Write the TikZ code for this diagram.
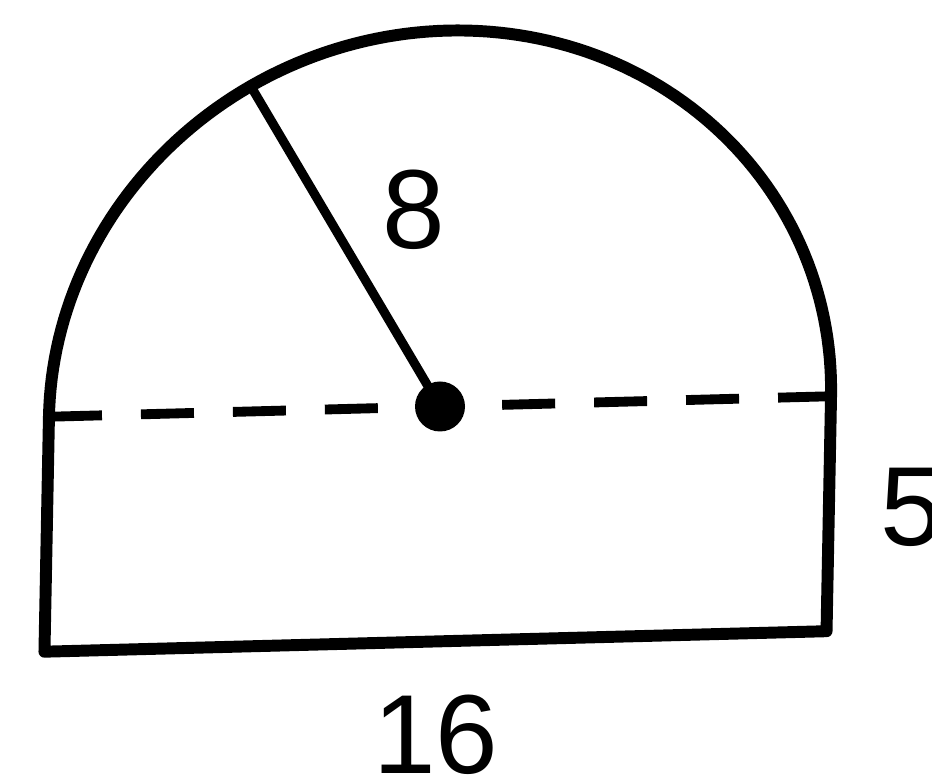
\documentclass[tikz,border=0pt]{standalone}
\usepackage{fontspec}
\setmainfont{Liberation Sans}
\tikzset{
  outline/.style={line width=3.4pt, line join=round, line cap=round},
  radiusline/.style={line width=2.6pt},
  dashline/.style={line width=2.8pt, dash pattern=on 0.53cm off 0.39cm},
  lbl/.style={inner sep=0pt, font=\fontsize{32}{32}\selectfont}
}
\begin{document}
\begin{tikzpicture}
\useasboundingbox (0,0) rectangle (9.32,-7.77);
\begin{scope}[shift={(4.40,-4.065)}, x={(0.4888cm,0.0128cm)}, y={(0.0090cm,0.4699cm)}]
  \coordinate (O) at (0,0);
  \coordinate (A) at (-8,0);
  \coordinate (B) at (8,0);
  \coordinate (C) at (8,-5);
  \coordinate (D) at (-8,-5);
  \coordinate (R) at (120:8);
  \draw[outline] (A) -- (D) -- (C) -- (B) -- plot[domain=0:180, samples=121] (\x:8) -- cycle;
  \draw[dashline] (A) -- (O);
  \draw[dashline] (B) -- (O);
  \draw[radiusline] (O) -- (R);
\end{scope}
\fill (O) circle[radius=0.25cm];
\node[lbl] (l8) at (4.14,-2.10) {8};
\node[lbl] (l5) at (9.12,-5.07) {5};
\node[lbl] (l16) at (4.36,-7.35) {16};
\end{tikzpicture}
\end{document}
